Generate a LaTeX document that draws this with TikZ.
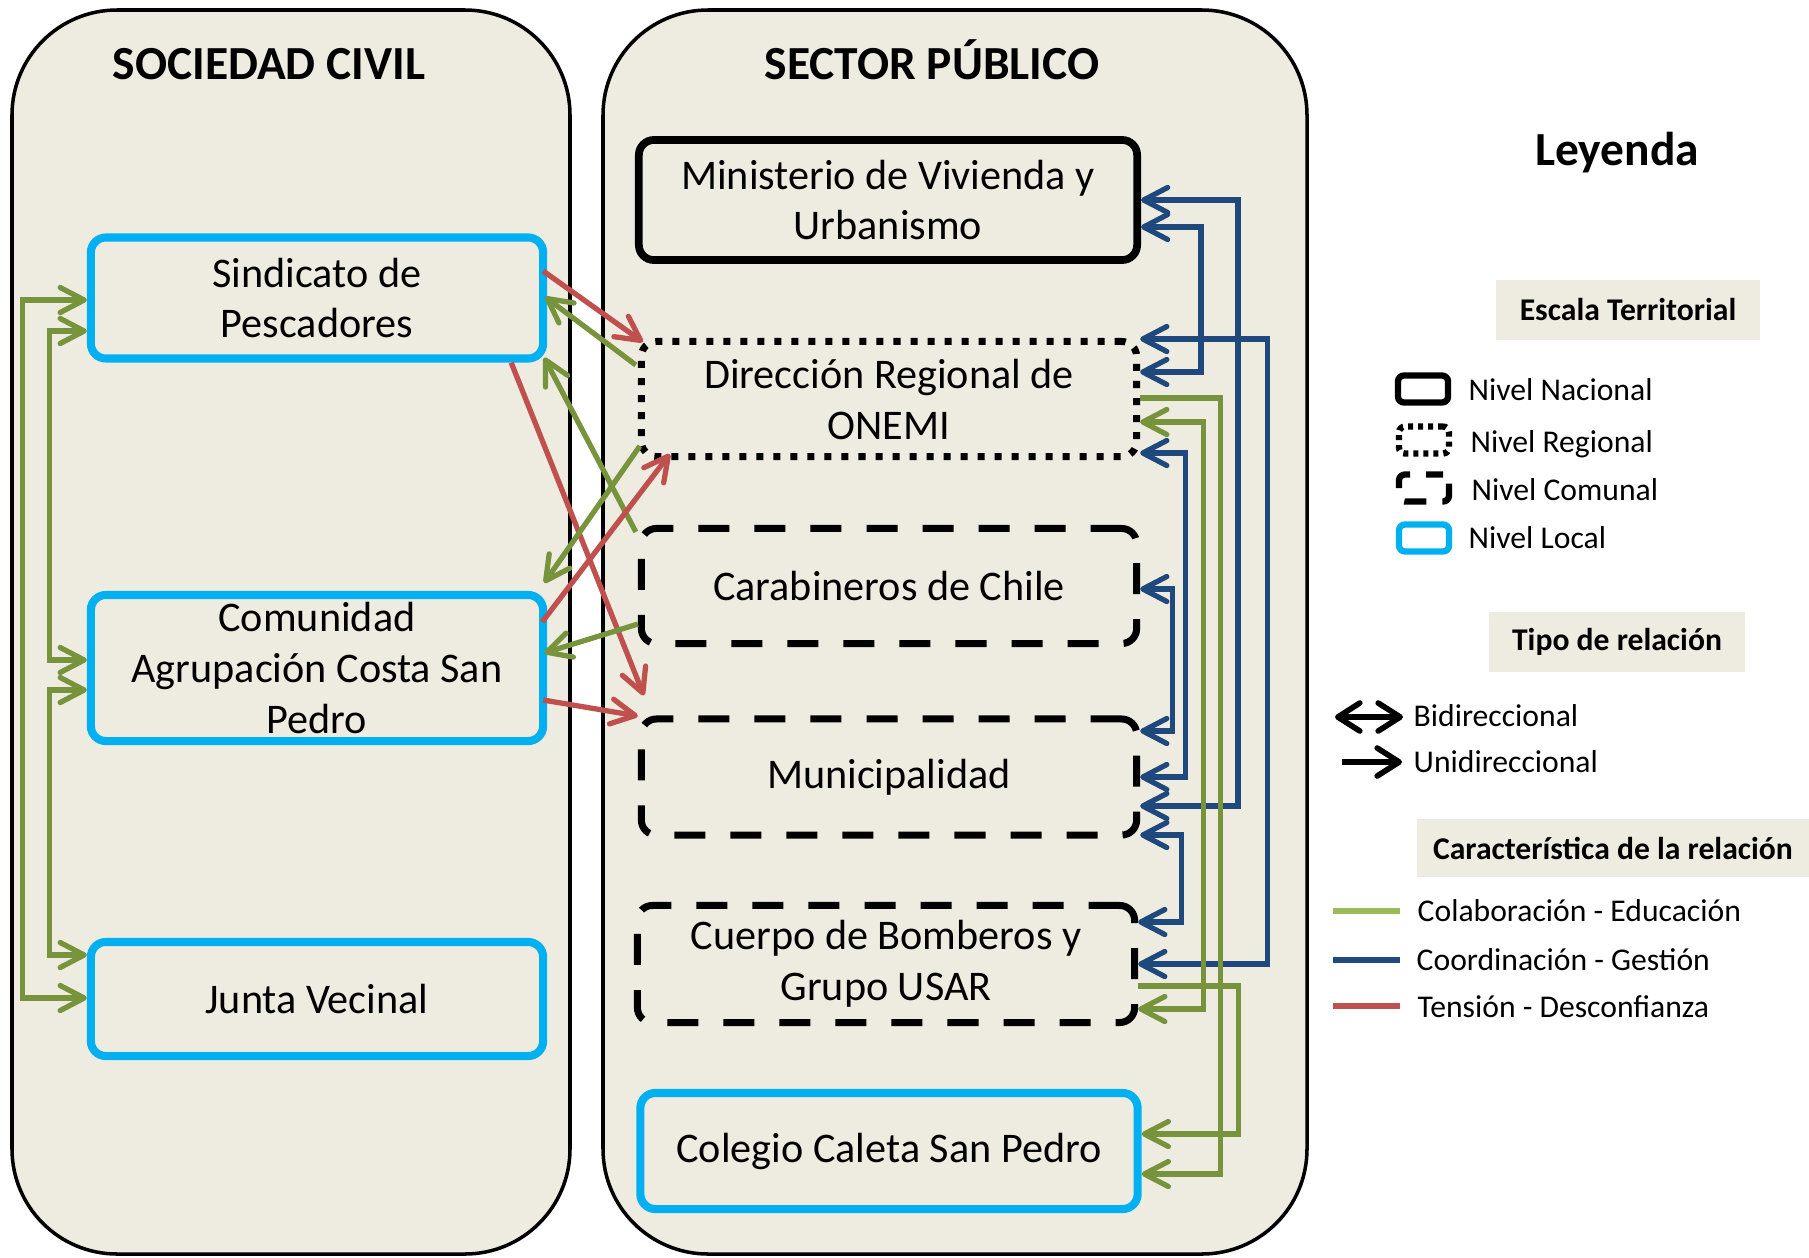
\documentclass[tikz,border=0pt]{standalone}
\usepackage{fontspec}
\setmainfont{Carlito}
\usepackage{xcolor}
\usepackage{tikz}
\usetikzlibrary{arrows.meta}
\usetikzlibrary{calc}

\definecolor{panelfill}{HTML}{EEECE1}
\definecolor{verde}{HTML}{77933C}
\definecolor{verdeclaro}{HTML}{9BBB59}
\definecolor{azul}{HTML}{1F497D}
\definecolor{rojo}{HTML}{C0504D}
\definecolor{celeste}{HTML}{00B0F0}

\tikzset{
  panel/.style={draw=black, fill=panelfill, line width=1pt, rounded corners=1.05cm},
  titulo/.style={font=\fontsize{13.5}{16}\selectfont\bfseries, inner sep=0pt, anchor=base},
  box/.style={rounded corners=0.15cm, minimum width=4.95cm, minimum height=1.15cm,
    align=center, font=\fontsize{12}{14.5}\selectfont, line width=2pt, inner sep=2pt},
  nivelnac/.style={box, draw=black, line width=2.2pt},
  nivelreg/.style={box, draw=black, dash pattern=on 0.07cm off 0.1cm},
  nivelcom/.style={box, draw=black, dash pattern=on 0.31cm off 0.25cm},
  nivelloc/.style={box, draw=celeste, line width=2.3pt},
  colabedu/.style={draw=verde, line width=1.5pt},
  coordgest/.style={draw=azul, line width=1.5pt},
  tensiondes/.style={draw=rojo, line width=1.5pt},
  legbox/.style={fill=panelfill, minimum height=0.59cm, inner sep=0pt,
    font=\fontsize{9}{11}\selectfont\bfseries},
  legsym/.style={rounded corners=0.06cm, minimum width=0.5cm, minimum height=0.27cm,
    line width=1.8pt, inner sep=0pt},
  legtext/.style={font=\fontsize{9}{11}\selectfont, inner sep=0pt, anchor=base west},
  legbarb/.tip={Straight Barb[length=2.2mm,width=2.8mm,round]},
  leglinea/.style={line width=1.6pt}
}

\begin{document}
\begin{tikzpicture}[x=0.01cm, y=-0.01cm, >={Straight Barb[length=2.4mm,width=2.5mm,round]}]
  \useasboundingbox (0,0) rectangle (1809,1257);

  % paneles
  \draw[panel] (12,10) rectangle (570,1254);
  \draw[panel] (603,10) rectangle (1307,1254);
  \node[titulo] (SC) at (269,79) {SOCIEDAD CIVIL};
  \node[titulo] (SP) at (932,79) {SECTOR PÚBLICO};

  % actores
  \node[nivelnac, minimum width=4.98cm, minimum height=1.20cm] (MIN) at (888,200) {Ministerio de Vivienda y\\Urbanismo};
  \node[nivelreg] (DR) at (889,399) {Dirección Regional de\\ONEMI};
  \node[nivelcom] (CAR) at (889,586) {Carabineros de Chile};
  \node[nivelcom, minimum height=1.16cm] (MUN) at (889,777) {Municipalidad};
  \node[nivelcom, minimum width=4.97cm, minimum height=1.17cm] (BOM) at (886,964) {Cuerpo de Bomberos y\\Grupo USAR};
  \node[nivelloc, minimum width=4.97cm, minimum height=1.16cm] (COL) at (889,1151) {Colegio Caleta San Pedro};
  \node[nivelloc, minimum width=4.52cm, minimum height=1.21cm] (SIN) at (317,298) {Sindicato de\\Pescadores};
  \node[nivelloc, minimum width=4.52cm, minimum height=1.46cm] (COM) at (317,668) {Comunidad\\Agrupación Costa San\\Pedro};
  \node[nivelloc, minimum width=4.52cm, minimum height=1.14cm] (JV) at (317,999) {Junta Vecinal};

  % sector publico
  \draw[coordgest, <->] (MIN.east) -- ++(97,0) |- ($(MUN.east)+(0,29)$);
  \draw[coordgest, <->] ($(MIN.east)+(0,27)$) -- ++(60,0) |- ($(DR.east)+(0,-27)$);
  \draw[coordgest, <->] ($(DR.east)+(0,-60)$) -- ++(127,0) |- (BOM.east);
  \draw[coordgest, <->] ($(DR.east)+(0,54)$) -- ++(45,0) |- (MUN.east);
  \draw[coordgest, <->] ($(CAR.east)+(0,3)$) -- ++(32,0) |- ($(MUN.east)+(0,-46)$);
  \draw[coordgest, <->] ($(MUN.east)+(0,58)$) -- ++(41,0) |- ($(BOM.east)+(0,-42)$);
  \draw[colabedu, ->] ($(DR.east)+(0,-1)$) -- ++(80,0) |- ($(COL.east)+(0,23)$);
  \draw[colabedu, <->] ($(DR.east)+(0,23)$) -- ++(63,0) |- ($(BOM.east)+(0,45)$);
  \draw[colabedu, ->] ($(BOM.east)+(0,22)$) -- ++(100,0) |- ($(COL.east)+(0,-17)$);

  % sociedad civil
  \draw[colabedu, <->] ($(SIN.west)+(0,2)$) -- ++(-64,0) |- ($(JV.west)+(0,-1)$);
  \draw[colabedu, <->] ($(SIN.west)+(0,33)$) -- ++(-37,0) |- ($(COM.west)+(0,-8)$);
  \draw[colabedu, <->] ($(COM.west)+(0,22)$) -- ++(-37,0) |- ($(JV.west)+(0,-44)$);

  % entre sectores
  \draw[tensiondes, ->] ($(SIN.east)+(-4,-27)$) -- ($(DR.north west)+(5,4)$);
  \draw[colabedu, ->] ($(DR.west)+(-2,-34)$) -- ($(SIN.east)+(-2,-1)$);
  \draw[tensiondes, ->] ($(SIN.south east)+(-36,0)$) -- ($(MUN.north west)+(6,-20)$);
  \draw[colabedu, ->] ($(CAR.north west)+(-2,7)$) -- ($(SIN.south east)+(-3,-5)$);
  \draw[colabedu, ->] ($(DR.south west)+(2,-14)$) -- ($(COM.north east)+(-3,-8)$);
  \draw[tensiondes, ->] ($(COM.east)+(-5,-46)$) -- ($(DR.south west)+(32,-6)$);
  \draw[colabedu, ->] ($(CAR.south west)+(0,-23)$) -- ($(COM.east)+(-3,-15)$);
  \draw[tensiondes, ->] ($(COM.east)+(-4,32)$) -- ($(MUN.west)+(0,-61)$);

  % leyenda
  \node[titulo] (LEY) at (1617,165) {Leyenda};
  \node[legbox, minimum width=2.64cm] (ESC) at (1628,310) {Escala Territorial};
  \node[legsym, draw=black] (LNAC) at (1423,389) {};
  \node[legsym, draw=black, dash pattern=on 0.05cm off 0.05cm] (LREG) at (1424,440) {};
  \node[legsym, draw=black, dash pattern=on 0.22cm off 0.16cm, dash phase=0.05cm] (LCOM) at (1424,488) {};
  \node[legsym, draw=celeste] (LLOC) at (1424,538) {};
  \node[legtext] (TNAC) at (1468,400) {Nivel Nacional};
  \node[legtext] (TREG) at (1470,452) {Nivel Regional};
  \node[legtext] (TCOM) at (1471,500) {Nivel Comunal};
  \node[legtext] (TLOC) at (1468,548) {Nivel Local};

  \node[legbox, minimum width=2.55cm] (TIPO) at (1617,642) {Tipo de relación};
  \coordinate (bi1) at (1335,717);
  \coordinate (bi2) at (1403,717);
  \draw[leglinea, {legbarb}-{legbarb}] (bi1) -- (bi2);
  \node[legtext] (TBI) at (1413,726) {Bidireccional};
  \coordinate (un1) at (1342,762);
  \coordinate (un2) at (1402,762);
  \draw[leglinea, -{legbarb}] (un1) -- (un2);
  \node[legtext] (TUN) at (1413,772) {Unidireccional};

  \node[legbox, minimum width=3.92cm, minimum height=0.57cm] (CARAC) at (1613,848) {Característica de la relación};
  \coordinate (ce1) at (1333,911);
  \coordinate (ce2) at (1400,911);
  \draw[leglinea, draw=verdeclaro] (ce1) -- (ce2);
  \node[legtext] (TCE) at (1417,921) {Colaboración - Educación};
  \coordinate (cg1) at (1333,960);
  \coordinate (cg2) at (1400,960);
  \draw[leglinea, draw=azul] (cg1) -- (cg2);
  \node[legtext] (TCG) at (1416,970) {Coordinación - Gestión};
  \coordinate (td1) at (1333,1006);
  \coordinate (td2) at (1400,1006);
  \draw[leglinea, draw=rojo] (td1) -- (td2);
  \node[legtext] (TTD) at (1417,1017) {Tensión - Desconfianza};
\end{tikzpicture}
\end{document}
